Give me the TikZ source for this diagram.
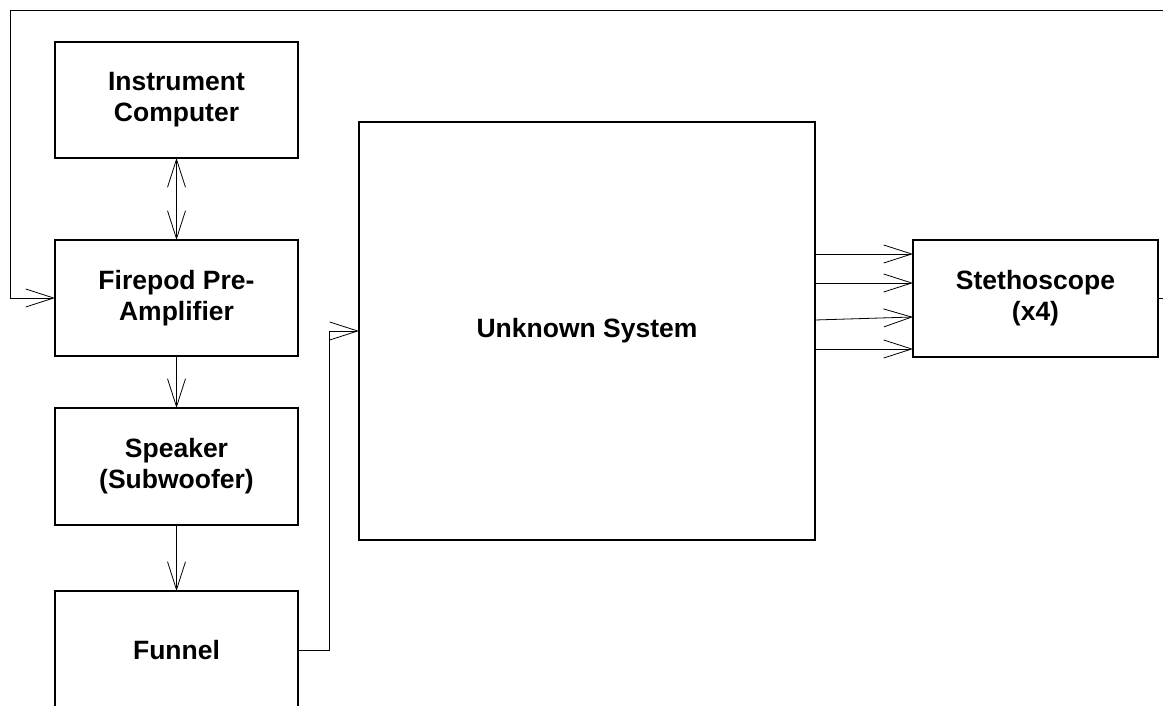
\documentclass[tikz,border=0pt]{standalone}
\usepackage{fontspec}
\setmainfont{Liberation Sans}
\usetikzlibrary{arrows.meta,calc}
\begin{document}
\begin{tikzpicture}[x=1pt,y=-1pt,
  blk/.style={draw,line width=1.1pt,rectangle,inner sep=0pt,outer sep=0pt,align=center,
    font=\fontsize{26.5}{31}\selectfont\bfseries},
  conn/.style={line width=0.8pt},
  arr/.style={conn,-{Straight Barb[length=28pt,width=18pt,line width=0.8pt]}},
  biarr/.style={conn,{Straight Barb[length=28pt,width=18pt,line width=0.8pt]}-{Straight Barb[length=28pt,width=18pt,line width=0.8pt]}}]
\clip (0,0) rectangle (1163,706);
\fill[white] (0,0) rectangle (1163,706);
\node[blk,minimum width=243pt,minimum height=116pt] (inst) at (176.5,100) {Instrument\\Computer};
\node[blk,minimum width=243pt,minimum height=116pt] (fire) at (176.5,298) {Firepod Pre-\\Amplifier};
\node[blk,minimum width=243pt,minimum height=117pt] (spk) at (176.5,466.5) {Speaker\\(Subwoofer)};
\node[blk,minimum width=243pt,minimum height=118pt] (fun) at (176.5,650) {Funnel};
\node[blk,minimum width=456pt,minimum height=418pt] (unk) at (587,331) {Unknown System};
\node[blk,minimum width=245pt,minimum height=117pt] (steth) at (1035.5,298.5) {Stethoscope\\(x4)};
\draw[biarr] (inst.south) -- (fire.north);
\draw[arr] (fire.south) -- (spk.north);
\draw[arr] (spk.south) -- (fun.north);
\draw[arr] (fun.east) -- ++(31,0) |- (unk.west);
\draw[arr] (unk.east |- 0,254) -- (steth.west |- 0,254);
\draw[arr] (unk.east |- 0,283) -- (steth.west |- 0,283);
\draw[arr] (unk.east |- 0,320) -- (steth.west |- 0,317);
\draw[arr] (unk.east |- 0,349) -- (steth.west |- 0,349);
\draw[arr] (steth.east) -- (1180,298.5) -- (1180,10) -- (10,10) -- (10,298) -- (fire.west);
\end{tikzpicture}
\end{document}
